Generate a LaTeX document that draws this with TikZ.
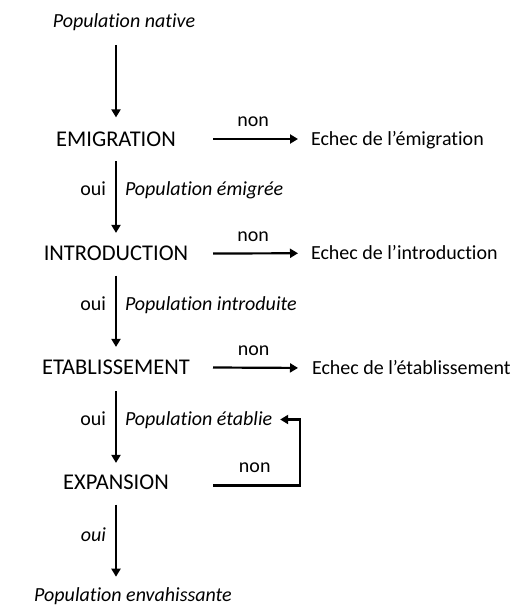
\documentclass[tikz,border=0pt]{standalone}
\usepackage{fontspec}
\setmainfont{Carlito}[Ligatures={NoCommon}]
\usetikzlibrary{arrows.meta,calc}
\begin{document}
\begin{tikzpicture}[x=1pt,y=-1pt,
  main/.style={inner sep=0pt, outer sep=0pt, font=\fontsize{22.5}{27}\selectfont, text height=14.2pt, text depth=0pt},
  side/.style={inner sep=0pt, outer sep=0pt, font=\fontsize{20}{24}\selectfont, text height=12.6pt, text depth=0pt},
  pop/.style={side, font=\fontsize{20}{24}\selectfont\itshape},
  lbl/.style={inner sep=0pt, outer sep=0pt, font=\fontsize{20}{24}\selectfont},
  ilbl/.style={lbl, font=\fontsize{20}{24}\selectfont\itshape},
  arr/.style={line width=2.2pt, -{Triangle[length=8pt,width=9pt]}},
  varr/.style={arr, shorten <=15pt, shorten >=13.5pt},
]
\useasboundingbox (0,0) rectangle (516,605);

% main column
\node[pop]  (nat)   at (124,21.5)  {Population native};
\node[main] (emi)   at (116,139)   {EMIGRATION};
\node[main] (intro) at (116,253.5) {INTRODUCTION};
\node[main] (etab)  at (116,367.5) {ETABLISSEMENT};
\node[main] (exp)   at (116,482.5) {EXPANSION};
\node[pop]  (env)   at (133,595)   {Population envahissante};

% failure outcomes
\node[side, anchor=west] (e1) at (311,139)   {Echec de l'émigration};
\node[side, anchor=west] (e2) at (311,253)   {Echec de l'introduction};
\node[side, anchor=west] (e3) at (312,368.5) {Echec de l'établissement};

% population labels
\node[pop, anchor=west] (pe)  at (125,189.5) {Population émigrée};
\node[pop, anchor=west] (pi)  at (125,304.5) {Population introduite};
\node[pop, anchor=west] (pet) at (125,419.5) {Population établie};

% oui labels
\node[lbl,  anchor=base east] (o1) at (106,195.5) {oui};
\node[lbl,  anchor=base east] (o2) at (106,310.5) {oui};
\node[lbl,  anchor=base east] (o3) at (106,425.5) {oui};
\node[ilbl, anchor=base east] (o4) at (106,541)   {oui};

\coordinate (c)  at (213,0);
\coordinate (c2) at (300,0);

% vertical arrows
\draw[arr, shorten <=17pt, shorten >=14.5pt] (nat.south -| emi.north) -- (emi.north);
\draw[varr] (emi.south) -- (intro.north);
\draw[varr] (intro.south) -- (etab.north);
\draw[varr, shorten <=16.5pt, shorten >=12.5pt] (etab.south) -- (exp.north);
\draw[varr, shorten >=12pt] (exp.south) -- (env.north -| exp.south);

% horizontal arrows
\draw[arr, shorten >=13pt] (emi -| c) -- node[lbl, pos=0.41, above=12pt] {non} (e1);
\draw[arr, shorten >=13pt] (intro -| c) -- node[lbl, pos=0.41, above=12pt] {non} (e2);
\draw[arr, shorten >=14pt] (etab -| c) -- node[lbl, pos=0.41, above=12pt] {non} (e3);

% feedback arrow
\draw[arr, shorten >=8pt] ($(exp -| c)+(0,3)$) -- node[lbl, pos=0.48, above=12.5pt] {non}
  ($(exp -| c2)+(0,3)$) -- (c2 |- pet) -- (pet);
\end{tikzpicture}
\end{document}
